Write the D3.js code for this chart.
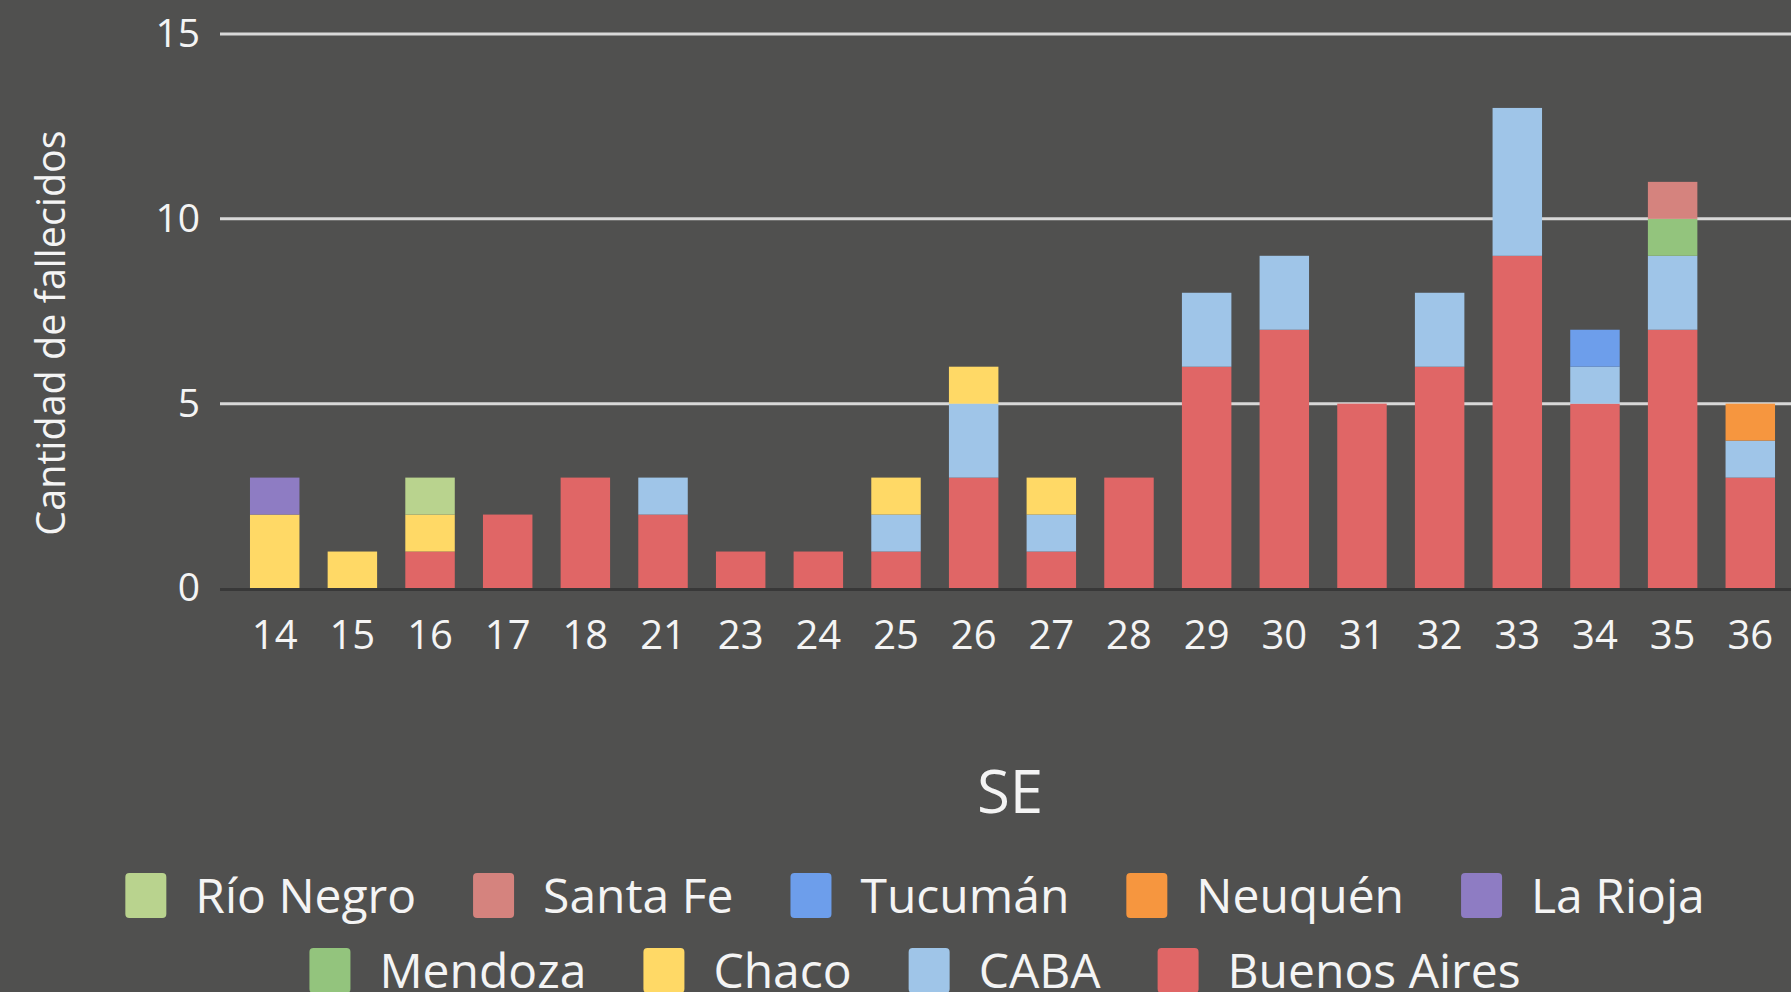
<!DOCTYPE html>
<html>
<head>
<meta charset="utf-8">
<script src="https://cdn.jsdelivr.net/npm/d3@7"></script>
<style>
  html, body { margin: 0; padding: 0; background: #50504f; }
  svg { display: block; font-family: "Open Sans", sans-serif; }
</style>
</head>
<body>
<svg id="chart" width="1791" height="992"></svg>
<script>
// semanas epidemiologicas (SE)
var weeks = ["14", "15", "16", "17", "18", "21", "23", "24", "25", "26",
             "27", "28", "29", "30", "31", "32", "33", "34", "35", "36"];

// fallecidos por provincia, una entrada por semana
var buenosAires = [0, 0, 1, 2, 3, 2, 1, 1, 1, 3, 1, 3, 6, 7, 5, 6, 9, 5, 7, 3];
var caba        = [0, 0, 0, 0, 0, 1, 0, 0, 1, 2, 1, 0, 2, 2, 0, 2, 4, 1, 2, 1];
var chaco       = [2, 1, 1, 0, 0, 0, 0, 0, 1, 1, 1, 0, 0, 0, 0, 0, 0, 0, 0, 0];
var mendoza     = [0, 0, 0, 0, 0, 0, 0, 0, 0, 0, 0, 0, 0, 0, 0, 0, 0, 0, 1, 0];
var laRioja     = [1, 0, 0, 0, 0, 0, 0, 0, 0, 0, 0, 0, 0, 0, 0, 0, 0, 0, 0, 0];
var neuquen     = [0, 0, 0, 0, 0, 0, 0, 0, 0, 0, 0, 0, 0, 0, 0, 0, 0, 0, 0, 1];
var tucuman     = [0, 0, 0, 0, 0, 0, 0, 0, 0, 0, 0, 0, 0, 0, 0, 0, 0, 1, 0, 0];
var santaFe     = [0, 0, 0, 0, 0, 0, 0, 0, 0, 0, 0, 0, 0, 0, 0, 0, 0, 0, 1, 0];
var rioNegro    = [0, 0, 1, 0, 0, 0, 0, 0, 0, 0, 0, 0, 0, 0, 0, 0, 0, 0, 0, 0];

var yTicks = [0, 5, 10, 15];

// orden de apilado, de abajo hacia arriba
var series = [
  { name: "Buenos Aires", values: buenosAires, color: "#e06666" },
  { name: "CABA",         values: caba,        color: "#9fc5e8" },
  { name: "Chaco",        values: chaco,       color: "#ffd966" },
  { name: "Mendoza",      values: mendoza,     color: "#93c47d" },
  { name: "La Rioja",     values: laRioja,     color: "#8e7cc3" },
  { name: "Neuquén",      values: neuquen,     color: "#f6963f" },
  { name: "Tucumán",      values: tucuman,     color: "#6d9eeb" },
  { name: "Santa Fe",     values: santaFe,     color: "#d5837e" },
  { name: "Río Negro",    values: rioNegro,    color: "#b9d38e" }
];

var svg = d3.select("#chart"),
    textColor = "#f4f4f4";

var rows = weeks.map(function(w, i) {
  var r = { week: w };
  series.forEach(function(s) { r[s.name] = s.values[i]; });
  return r;
});

var x = d3.scaleBand()
      .domain(weeks)
      .range([220, 1805])
      .paddingInner(0.363)
      .paddingOuter(0.386);

var y = d3.scaleLinear()
      .domain([0, 15])
      .range([588.5, 34]);

// lineas de grilla
svg.append("g")
  .selectAll("line")
  .data(yTicks.filter(function(d) { return d > 0; }))
  .enter().append("line")
    .attr("x1", 220)
    .attr("x2", 1805)
    .attr("y1", function(d) { return y(d); })
    .attr("y2", function(d) { return y(d); })
    .attr("stroke", "#d8d8d8")
    .attr("stroke-width", 3);

// eje y
var yAxis = svg.append("g")
    .attr("transform", "translate(220,0)")
    .call(d3.axisLeft(y).tickValues(yTicks).tickSize(0).tickPadding(20));
yAxis.select(".domain").remove();
yAxis.selectAll("text")
    .attr("fill", textColor)
    .attr("font-size", 39)
    .attr("font-family", "'Open Sans', sans-serif");

// barras apiladas
var stack = d3.stack().keys(series.map(function(s) { return s.name; }));
var layers = stack(rows);

svg.append("g")
  .selectAll("g")
  .data(layers)
  .enter().append("g")
    .attr("fill", function(d, i) { return series[i].color; })
  .selectAll("rect")
  .data(function(d) { return d.filter(function(p) { return p[1] > p[0]; }); })
  .enter().append("rect")
    .attr("x", function(d) { return x(d.data.week); })
    .attr("y", function(d) { return y(d[1]); })
    .attr("width", x.bandwidth())
    .attr("height", function(d) { return y(d[0]) - y(d[1]); });

// linea base
svg.append("line")
    .attr("x1", 220)
    .attr("x2", 1805)
    .attr("y1", y(0) + 1)
    .attr("y2", y(0) + 1)
    .attr("stroke", "#383838")
    .attr("stroke-width", 3);

// eje x
var xAxis = svg.append("g")
    .attr("transform", "translate(0," + y(0) + ")")
    .call(d3.axisBottom(x).tickSize(0).tickPadding(32));
xAxis.select(".domain").remove();
xAxis.selectAll("text")
    .attr("fill", textColor)
    .attr("font-size", 40)
    .attr("font-family", "'Open Sans', sans-serif");

// titulos
svg.append("text")
    .attr("transform", "translate(65,333) rotate(-90)")
    .attr("text-anchor", "middle")
    .attr("fill", textColor)
    .attr("font-size", 39.5)
    .text("Cantidad de fallecidos");

svg.append("text")
    .attr("x", 1010)
    .attr("y", 813)
    .attr("text-anchor", "middle")
    .attr("fill", textColor)
    .attr("font-size", 60)
    .text("SE");

// leyenda (orden inverso, dos filas centradas)
var legendItems = series.slice().reverse();
var legendRows = [legendItems.slice(0, 5), legendItems.slice(5)];
var swW = 41, swH = 45, swGap = 29, itemGap = 57, legendCenter = 915;

legendRows.forEach(function(items, r) {
  var top = 873 + r * 75;
  var g = svg.append("g");
  var cursor = 0;
  items.forEach(function(s) {
    var item = g.append("g").attr("transform", "translate(" + cursor + ",0)");
    item.append("rect")
        .attr("y", top)
        .attr("width", swW)
        .attr("height", swH)
        .attr("rx", 4)
        .attr("fill", s.color);
    var t = item.append("text")
        .attr("x", swW + swGap)
        .attr("y", top + 40)
        .attr("fill", textColor)
        .attr("font-size", 48)
        .text(s.name);
    cursor += swW + swGap + t.node().getComputedTextLength() + itemGap;
  });
  var total = cursor - itemGap;
  g.attr("transform", "translate(" + (legendCenter - total / 2) + ",0)");
});
</script>
</body>
</html>
